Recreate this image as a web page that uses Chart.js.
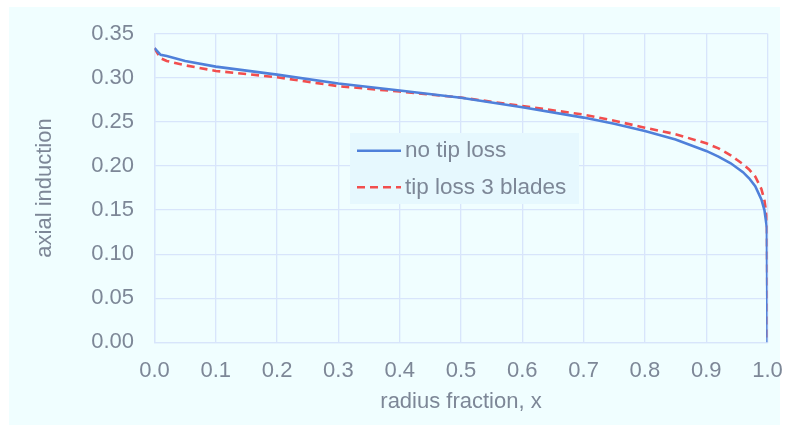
<!DOCTYPE html>
<html>
<head>
<meta charset="utf-8">
<script src="https://cdn.jsdelivr.net/npm/chart.js@4/dist/chart.umd.min.js"></script>
<style>
  html, body { margin: 0; padding: 0; background: #ffffff; }
  #wrap { width: 787px; height: 432px; position: relative; }
</style>
</head>
<body>
<div id="wrap"><canvas id="c" width="787" height="432"></canvas></div>
<script>
const radiusFraction = [0, 0.01, 0.02, 0.05, 0.1, 0.2, 0.3, 0.4, 0.5, 0.6, 0.7, 0.75, 0.8, 0.85, 0.9, 0.92, 0.94, 0.95, 0.96, 0.97, 0.98, 0.99, 0.995, 0.999, 1.0];
const noTipLoss    = [0.3334, 0.326, 0.3245, 0.319, 0.3126, 0.3035, 0.2935, 0.2855, 0.2772, 0.2665, 0.2548, 0.2478, 0.2397, 0.230, 0.217, 0.2105, 0.203, 0.198, 0.193, 0.186, 0.177, 0.162, 0.150, 0.130, 0];
const tipLoss3     = [0.3334, 0.322, 0.319, 0.314, 0.3077, 0.3005, 0.2904, 0.2843, 0.2775, 0.268, 0.2582, 0.2512, 0.2434, 0.236, 0.2257, 0.220, 0.212, 0.207, 0.202, 0.196, 0.188, 0.174, 0.161, 0.142, 0];
const seriesNames  = ["no tip loss", "tip loss 3 blades"];
const xTitle = "radius fraction, x";
const yTitle = "axial induction";

const toPts = (ys) => radiusFraction.map((x, i) => ({ x: x, y: ys[i] }));

const FONT = "'Liberation Sans', Arial, sans-serif";
const TXT = '#7D8797';
const GRID = '#D8E5FB';

const panelPlugin = {
  id: 'panel',
  beforeDraw(chart) {
    const ctx = chart.ctx;
    ctx.save();
    ctx.fillStyle = '#ffffff';
    ctx.fillRect(0, 0, chart.width, chart.height);
    ctx.fillStyle = '#F0FEFF';
    ctx.fillRect(9, 7, 771, 418);
    ctx.restore();
  }
};

const legendPlugin = {
  id: 'boxLegend',
  afterDraw(chart) {
    const ctx = chart.ctx;
    ctx.save();
    ctx.fillStyle = '#E6F8FE';
    ctx.fillRect(350, 133, 229, 71);
    const rows = [150.7, 187.3];
    chart.data.datasets.forEach((ds, i) => {
      const y = rows[i];
      ctx.beginPath();
      ctx.strokeStyle = ds.borderColor;
      ctx.lineWidth = ds.borderWidth;
      ctx.setLineDash(ds.borderDash || []);
      ctx.moveTo(357, y);
      ctx.lineTo(401, y);
      ctx.stroke();
      ctx.setLineDash([]);
      ctx.fillStyle = TXT;
      ctx.font = '22.5px ' + FONT;
      ctx.textBaseline = 'middle';
      ctx.textAlign = 'left';
      ctx.fillText(ds.label, 405, y);
    });
    ctx.restore();
  }
};

new Chart(document.getElementById('c'), {
  type: 'scatter',
  data: {
    datasets: [
      {
        label: seriesNames[0],
        data: toPts(noTipLoss),
        showLine: true,
        borderColor: '#4F80DA',
        borderWidth: 2.6,
        pointRadius: 0,
        tension: 0,
        fill: false
      },
      {
        label: seriesNames[1],
        data: toPts(tipLoss3),
        showLine: true,
        borderColor: '#F24E4E',
        borderWidth: 2.6,
        borderDash: [8, 5],
        pointRadius: 0,
        tension: 0,
        fill: false
      }
    ]
  },
  options: {
    responsive: false,
    animation: false,
    devicePixelRatio: 1,
    layout: { padding: { left: 0, right: 19.5, top: 33.6, bottom: 0 } },
    plugins: { legend: { display: false }, tooltip: { enabled: false } },
    scales: {
      x: {
        type: 'linear',
        min: 0, max: 1,
        ticks: {
          stepSize: 0.1,
          color: TXT,
          font: { family: FONT, size: 22 },
          padding: 15,
          maxRotation: 0,
          callback: (v) => Number(v).toFixed(1)
        },
        grid: { color: GRID, lineWidth: 1.3, drawTicks: false },
        border: { color: GRID, width: 1.3 },
        title: {
          display: true, text: xTitle, color: TXT,
          font: { family: FONT, size: 22 },
          padding: { top: 0, bottom: 16.8 }
        },
        afterFit: (s) => { s.height = 432 - 342.4; s.paddingLeft = 0; s.paddingRight = 0; }
      },
      y: {
        type: 'linear',
        min: 0, max: 0.35,
        ticks: {
          stepSize: 0.05,
          color: TXT,
          font: { family: FONT, size: 22 },
          padding: 20.5,
          callback: (v) => Number(v).toFixed(2)
        },
        grid: { color: GRID, lineWidth: 1.3, drawTicks: false },
        border: { color: GRID, width: 1.3 },
        title: {
          display: true, text: yTitle, color: TXT,
          font: { family: FONT, size: 22 },
          padding: { top: 31.8, bottom: 0 }
        },
        afterFit: (s) => { s.width = 154.5; s.paddingTop = 0; s.paddingBottom = 0; }
      }
    }
  },
  plugins: [panelPlugin, legendPlugin]
});
</script>
</body>
</html>
